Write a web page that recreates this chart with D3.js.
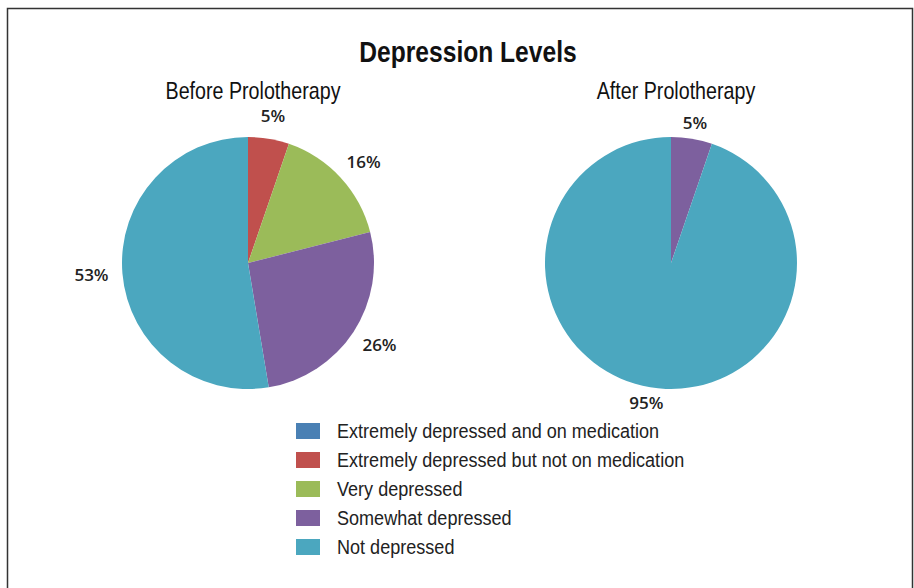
<!DOCTYPE html>
<meta charset="utf-8">
<style>
    body { margin: 0; background: #fff; }
    .title { font: bold 30px "Liberation Sans", Arial, sans-serif; fill: #111; }
    .sub { font: 24px "Liberation Sans", Arial, sans-serif; fill: #111; }
    .lbl { font: 600 17px "Open Sans", sans-serif; fill: #222; }
    .legend text { font: 21px "Liberation Sans", Arial, sans-serif; fill: #222; }
</style>
<body>
<script src="https://d3js.org/d3.v7.min.js"></script>
<script>
    // counts of patients (19 total) in each category
    var categories = ["Extremely depressed and on medication",
                      "Extremely depressed but not on medication",
                      "Very depressed",
                      "Somewhat depressed",
                      "Not depressed"];
    var colors = ["#4a80b4", "#c0504d", "#9bbb59", "#7d609e", "#4ba7bf"];
    var before = [0, 1, 3, 5, 10];
    var after = [0, 0, 0, 1, 18];

    var W = 914, H = 588;
    var svg = d3.select("body").append("svg")
        .attr("width", W)
        .attr("height", H);

    // frame (top, left, right)
    svg.append("path")
        .attr("d", "M7.5," + H + "V8.5H912.5V" + H)
        .attr("fill", "none")
        .attr("stroke", "#333")
        .attr("stroke-width", 1.5);

    // narrow look: Arial-like font squeezed horizontally
    function narrow(sel, x, y, k) {
        sel.attr("transform", "translate(" + x + "," + y + ") scale(" + k + ",1)");
    }

    svg.append("text")
        .attr("class", "title")
        .attr("text-anchor", "middle")
        .text("Depression Levels")
        .call(narrow, 468, 62, 0.82);

    var color = d3.scaleOrdinal().domain(categories).range(colors);
    var pie = d3.pie().sort(null).value(function(d) { return d; });
    var r = 126;
    var arc = d3.arc().innerRadius(0).outerRadius(r);

    function drawPie(values, cx, title, gap) {
        var g = svg.append("g").attr("transform", "translate(" + cx + ",263)");
        svg.append("text")
            .attr("class", "sub")
            .attr("text-anchor", "middle")
            .text(title)
            .call(narrow, cx + 5, 99, 0.82);
        var total = d3.sum(values);
        var arcs = pie(values).filter(function(d) { return d.value > 0; });
        g.selectAll("path").data(arcs).enter().append("path")
            .attr("d", arc)
            .attr("fill", function(d) { return colors[d.index]; });
        g.selectAll("text").data(arcs).enter().append("text")
            .attr("class", "lbl")
            .attr("text-anchor", "middle")
            .attr("dy", "0.35em")
            .text(function(d) { return Math.round(d.value / total * 100) + "%"; })
            .attr("transform", function(d) {
                var a = (d.startAngle + d.endAngle) / 2,
                    b = this.getBBox(),
                    s = Math.sin(a), c = Math.cos(a),
                    x = (r + gap) * s + b.width / 2 * s,
                    y = -(r + gap) * c - b.height / 2 * c * 0.8;
                return "translate(" + x + "," + y + ")";
            });
    }

    drawPie(before, 248, "Before Prolotherapy", 14);
    drawPie(after, 671, "After Prolotherapy", 7);

    var legend = svg.append("g").attr("class", "legend");
    var ly = d3.scaleBand().domain(categories).range([417, 562]);
    var rows = legend.selectAll("g").data(categories).enter().append("g")
        .attr("transform", function(d) { return "translate(296," + ly(d) + ")"; });
    rows.append("rect")
        .attr("y", 6)
        .attr("width", 24)
        .attr("height", 16)
        .attr("fill", function(d) { return color(d); });
    rows.append("text")
        .attr("dy", "0.35em")
        .text(function(d) { return d; })
        .call(narrow, 41, 14, 0.86);
</script>
